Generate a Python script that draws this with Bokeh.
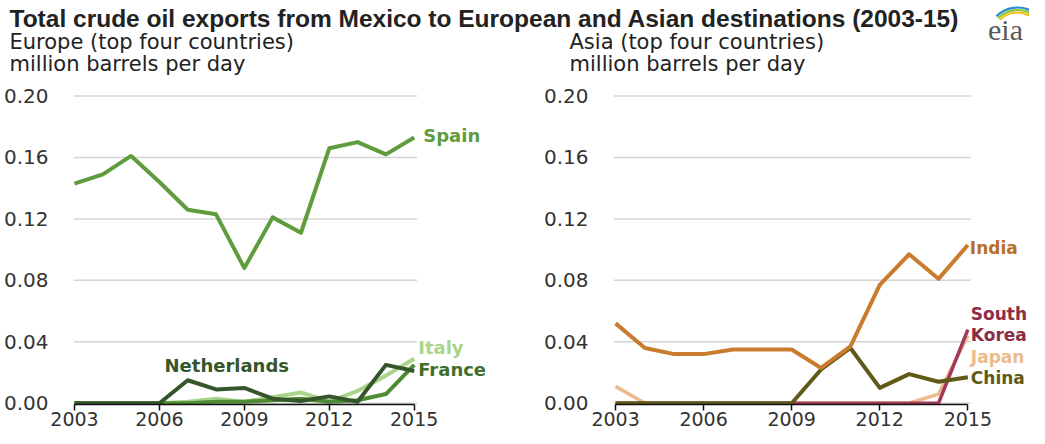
import math
from bokeh.plotting import figure
from bokeh.layouts import column, row
from bokeh.models import Range1d, Label, FixedTicker, PrintfTickFormatter
from bokeh.embed import file_html
from bokeh.resources import INLINE

# ---------------- data ----------------
years = [2003, 2004, 2005, 2006, 2007, 2008, 2009, 2010, 2011, 2012, 2013, 2014, 2015]

spain       = [0.143, 0.149, 0.161, 0.144, 0.126, 0.123, 0.088, 0.121, 0.111, 0.166, 0.170, 0.162, 0.173]
netherlands = [0.000, 0.000, 0.000, 0.000, 0.015, 0.009, 0.010, 0.003, 0.0015, 0.0045, 0.001, 0.025, 0.021]
france      = [0.000, 0.000, 0.000, 0.000, 0.000, 0.001, 0.001, 0.002, 0.003, 0.001, 0.002, 0.006, 0.025]
italy       = [0.000, 0.000, 0.000, 0.000, 0.001, 0.003, 0.001, 0.004, 0.007, 0.001, 0.008, 0.018, 0.029]

india       = [0.052, 0.036, 0.032, 0.032, 0.035, 0.035, 0.035, 0.023, 0.037, 0.077, 0.097, 0.081, 0.103]
china       = [0.000, 0.000, 0.000, 0.000, 0.000, 0.000, 0.000, 0.022, 0.036, 0.010, 0.019, 0.014, 0.017]
japan       = [0.011, 0.000, 0.000, 0.000, 0.000, 0.000, 0.000, 0.000, 0.000, 0.000, 0.000, 0.006, 0.044]
south_korea = [0.000, 0.000, 0.000, 0.000, 0.000, 0.000, 0.000, 0.000, 0.000, 0.000, 0.000, 0.000, 0.048]

x_ticks = [2003, 2006, 2009, 2012, 2015]
y_ticks = [0.00, 0.04, 0.08, 0.12, 0.16, 0.20]

title_text = "Total crude oil exports from Mexico to European and Asian destinations (2003-15)"
left_sub = ["Europe  (top four  countries)", "million barrels  per day"]
right_sub = ["Asia (top four  countries)", "million barrels  per day"]

# ---------------- title strip ----------------
W_LEFT, W_RIGHT = 540, 489
W_TOTAL = W_LEFT + W_RIGHT
H_STRIP = 76
H_CHART = 352
tf = figure(width=W_TOTAL, height=H_STRIP, output_backend="svg", toolbar_location=None,
            x_range=Range1d(0, W_TOTAL), y_range=Range1d(0, H_STRIP),
            x_axis_type=None, y_axis_type=None, min_border=0)
tf.outline_line_color = None
tf.grid.visible = False

tf.add_layout(Label(x=9, y=58.5, text=title_text, text_font="Liberation Sans",
                    text_font_style="bold", text_font_size="24.5px", text_color="#222222",
                    text_baseline="middle"))
for i, s in enumerate(left_sub):
    tf.add_layout(Label(x=9, y=34.5 - 22 * i, text=s, text_font="DejaVu Sans",
                        text_font_size="21px", text_color="#222222", text_baseline="middle"))
for i, s in enumerate(right_sub):
    tf.add_layout(Label(x=569, y=34.5 - 22 * i, text=s, text_font="DejaVu Sans",
                        text_font_size="21px", text_color="#222222", text_baseline="middle"))
# eia logo
tf.add_layout(Label(x=1005, y=47, text="eia", text_font="Liberation Serif",
                    text_font_size="30px", text_color="#5a5a5a", text_baseline="middle",
                    text_align="center"))
tf.arc(x=[1017, 1017, 1017], y=[39, 39, 39], radius=[25, 27.5, 30],
       start_angle=[math.radians(62)] * 3, end_angle=[math.radians(135)] * 3,
       line_color=["#f2c511", "#8cc63f", "#2a8fd0"], line_width=2.2)


def make_chart(width, bl, br, x_start, x_end, series, labels, label_size):
    p = figure(width=width, height=H_CHART, output_backend="svg", toolbar_location=None,
               x_range=Range1d(x_start, x_end), y_range=Range1d(-0.0008, 0.2101),
               min_border_left=bl, min_border_right=br, min_border_top=4, min_border_bottom=0)
    p.outline_line_color = None
    p.background_fill_color = "white"
    p.border_fill_color = "white"
    p.grid.visible = False
    # horizontal gridlines only over the data area
    p.segment(x0=[x_start] * len(y_ticks), y0=y_ticks, x1=[2015.1] * len(y_ticks), y1=y_ticks,
              line_color="#d4d4d4", line_width=1.5)

    p.xaxis.ticker = FixedTicker(ticks=x_ticks)
    p.xaxis.bounds = (2003, 2015)
    p.xaxis.minor_tick_line_color = None
    p.xaxis.major_tick_in = 0
    p.xaxis.major_tick_out = 6
    p.xaxis.major_tick_line_color = "#111111"
    p.xaxis.major_tick_line_width = 1.5
    p.xaxis.axis_line_color = "#111111"
    p.xaxis.axis_line_width = 1.5
    p.xaxis.major_label_text_font = "DejaVu Sans"
    p.xaxis.major_label_text_font_size = "19px"
    p.xaxis.major_label_text_color = "#333333"
    p.xaxis.major_label_standoff = 1

    p.yaxis.ticker = FixedTicker(ticks=y_ticks)
    p.yaxis.formatter = PrintfTickFormatter(format="%.2f")
    p.yaxis.minor_tick_line_color = None
    p.yaxis.major_tick_line_color = None
    p.yaxis.axis_line_color = None
    p.yaxis.major_label_text_font = "DejaVu Sans"
    p.yaxis.major_label_text_font_size = "20px"
    p.yaxis.major_label_text_color = "#333333"
    p.yaxis.major_label_standoff = 19

    for vals, color, lw in series:
        p.line(years, vals, line_color=color, line_width=lw, line_join="round")
    for text, x, xoff, y, color in labels:
        p.add_layout(Label(x=x, y=y, x_offset=xoff, text=text, text_font="DejaVu Sans",
                           text_font_style="bold", text_font_size=label_size, text_color=color,
                           text_baseline="middle"))
    return p


left = make_chart(W_LEFT, 65, 2, 2002.965, 2019.39,
                  [(italy, "#a9d48c", 4), (france, "#4f8a35", 4),
                   (netherlands, "#35552a", 4), (spain, "#5e9c3e", 4)],
                  [("Spain", 2015, 9, 0.1745, "#5e9c3e"),
                   ("Netherlands", 2006.18, 0, 0.0248, "#35552a"),
                   ("Italy", 2015, 4, 0.036, "#a9d48c"),
                   ("France", 2015, 4, 0.0222, "#3f6f2c")], "18px")

right = make_chart(W_RIGHT, 67, 0, 2002.93, 2017.10,
                   [(japan, "#ebbb8c", 3.5), (south_korea, "#a3395a", 3.5),
                    (china, "#5f5a17", 4), (india, "#c97b2e", 4)],
                   [("India", 2015, 2, 0.1013, "#b86f28"),
                    ("South", 2015, 3, 0.0582, "#8e2b47"),
                    ("Korea", 2015, 3, 0.0444, "#8e2b47"),
                    ("Japan", 2015, 3, 0.0301, "#ebbb8c"),
                    ("China", 2015, 3, 0.0163, "#5f5a17")], "17px")

layout = column(tf, row(left, right, spacing=0), spacing=0)
open("out.html", "w").write(file_html(layout, INLINE))
